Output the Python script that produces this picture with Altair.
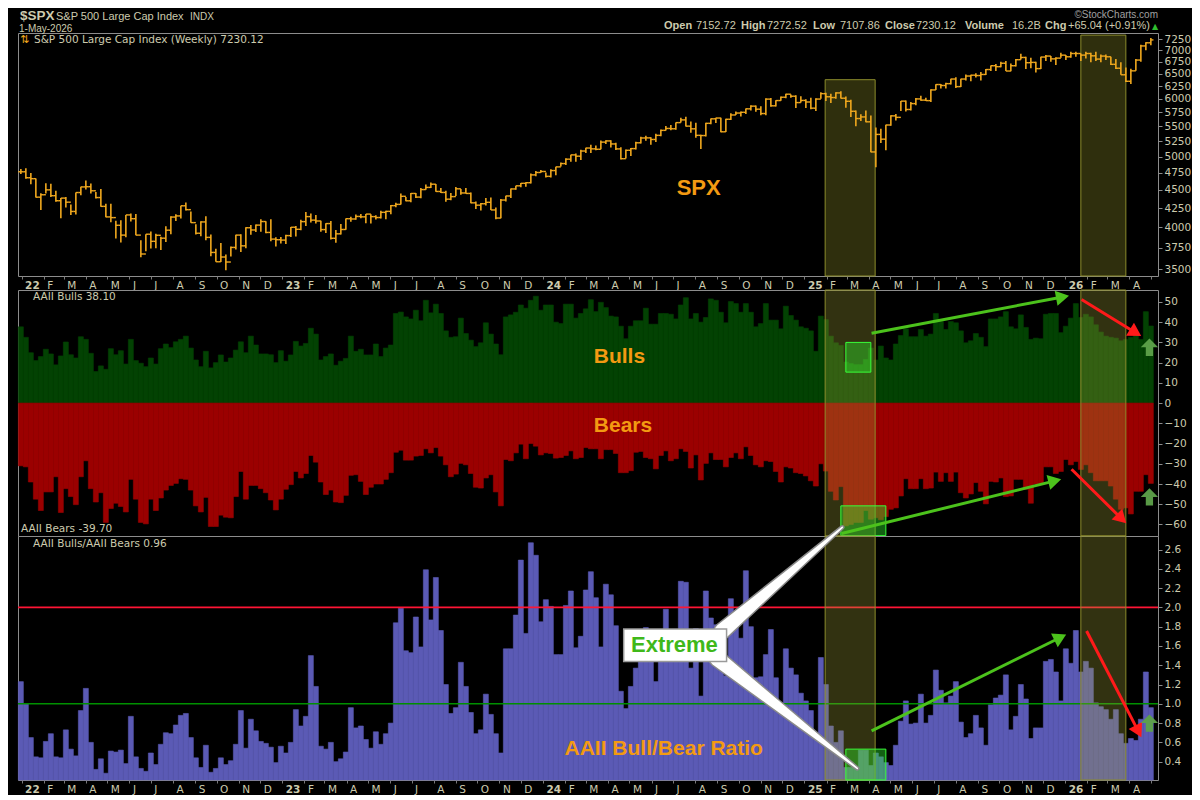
import numpy as np
import pandas as pd
import altair as alt

# ---------------- data (weekly) ----------------
spx_close = [4766,
 4677, 4663, 4398, 4432, 4501, 4419, 4349, 4385, 4329, 4204, 4463, 4543, 4546, 4488, 4393, 4272, 4132, 4123, 4024, 3901, 4158, 4109, 3901, 3675, 3912, 3825, 3899, 3863, 3962, 4130, 4145, 4280, 4228, 4058, 3924, 4067, 3873, 3693, 3586, 3640, 3583, 3752, 3901, 3771, 3993, 3965, 4026, 4072, 3934, 3852, 3845, 3840,
 3895, 3999, 3973, 4071, 4136, 4090, 4079, 3970, 4046, 3862, 3917, 3971, 4109, 4105, 4138, 4133, 4169, 4136, 4124, 4192, 4205, 4282, 4299, 4410, 4348, 4450, 4399, 4505, 4536, 4582, 4478, 4464, 4370, 4406, 4516, 4457, 4450, 4320, 4288, 4308, 4327, 4224, 4117, 4358, 4415, 4514, 4559, 4595, 4604, 4719, 4755, 4770,
 4697, 4784, 4840, 4891, 4959, 5027, 5006, 5089, 5137, 5124, 5117, 5234, 5254, 5204, 5123, 4967, 5100, 5128, 5223, 5303, 5305, 5278, 5347, 5432, 5465, 5460, 5567, 5615, 5505, 5459, 5347, 5344, 5554, 5634, 5648, 5408, 5626, 5703, 5738, 5751, 5815, 5864, 5808, 5729, 5996, 5871, 5969, 6032, 6090, 6051, 5931, 5971,
 5942, 5827, 5997, 6101, 6041, 6026, 6115, 6013, 5955, 5770, 5639, 5668, 5581, 5074, 5363, 5283, 5525, 5687, 5660, 5958, 5803, 5912, 6000, 5977, 5968, 6173, 6279, 6260, 6297, 6389, 6238, 6389, 6450, 6467, 6460, 6482, 6584, 6664, 6644, 6716, 6553, 6664, 6792, 6840, 6728, 6734, 6603, 6849, 6870, 6810, 6825, 6890,
 6855, 6926, 6926, 6891, 6926, 6876, 6805, 6870, 6855, 6693, 6611, 6476, 6344, 6557, 6784, 7094, 7165, 7230.12]

spx_high = [4808,
 4818, 4749, 4664, 4453, 4595, 4590, 4490, 4385, 4402, 4296, 4465, 4546, 4637, 4593, 4471, 4513, 4308, 4307, 4081, 4090, 4158, 4177, 4169, 3838, 3913, 3946, 3918, 3882, 4013, 4140, 4167, 4280, 4325, 4203, 4038, 4076, 4140, 3907, 3736, 3806, 3670, 3763, 3905, 3911, 4000, 4028, 4034, 4100, 4077, 4101, 3876, 3878,
 3906, 4003, 4015, 4095, 4195, 4176, 4156, 4082, 4049, 4078, 3964, 4039, 4110, 4133, 4163, 4169, 4170, 4168, 4155, 4213, 4213, 4291, 4322, 4448, 4401, 4458, 4456, 4527, 4578, 4607, 4584, 4528, 4490, 4458, 4542, 4514, 4527, 4465, 4338, 4319, 4385, 4393, 4256, 4374, 4418, 4520, 4560, 4599, 4610, 4739, 4778, 4793,
 4754, 4802, 4842, 4906, 4975, 5030, 5048, 5111, 5140, 5189, 5179, 5261, 5265, 5264, 5222, 5150, 5114, 5139, 5240, 5325, 5341, 5315, 5376, 5447, 5506, 5523, 5570, 5655, 5670, 5585, 5566, 5358, 5563, 5641, 5651, 5651, 5636, 5734, 5767, 5765, 5822, 5879, 5878, 5863, 6012, 6018, 5973, 6044, 6099, 6085, 6070, 6050,
 5993, 6021, 6014, 6128, 6120, 6101, 6127, 6147, 6044, 5986, 5783, 5715, 5786, 5695, 5481, 5459, 5528, 5700, 5720, 5959, 5968, 5944, 6016, 6059, 6024, 6187, 6284, 6290, 6315, 6395, 6427, 6395, 6481, 6478, 6509, 6532, 6593, 6671, 6699, 6750, 6764, 6711, 6807, 6920, 6855, 6834, 6749, 6853, 6891, 6870, 6845, 6945,
 6891, 6963, 6963, 6926, 6963, 6945, 6963, 6905, 6905, 6855, 6805, 6735, 6625, 6600, 6805, 7123, 7175, 7272.52]

spx_low = [4733,
 4662, 4582, 4395, 4222, 4450, 4402, 4335, 4115, 4257, 4157, 4162, 4424, 4507, 4450, 4381, 4268, 4128, 4063, 3859, 3810, 3876, 4074, 3900, 3637, 3706, 3738, 3742, 3722, 3818, 3913, 4079, 4112, 4218, 4057, 3907, 3886, 3837, 3648, 3585, 3584, 3491, 3647, 3727, 3698, 3741, 3906, 3938, 3942, 3923, 3827, 3764, 3800,
 3794, 3877, 3885, 3961, 4015, 4061, 4047, 3943, 3928, 3847, 3809, 3909, 3969, 4069, 4096, 4113, 4049, 4048, 4098, 4110, 4103, 4167, 4261, 4298, 4341, 4328, 4385, 4383, 4502, 4527, 4474, 4455, 4335, 4356, 4414, 4431, 4448, 4316, 4238, 4216, 4283, 4223, 4103, 4113, 4340, 4387, 4504, 4537, 4546, 4593, 4700, 4751,
 4682, 4682, 4714, 4844, 4870, 4919, 4920, 4947, 5057, 5057, 5103, 5117, 5203, 5146, 5107, 4954, 4969, 5011, 5114, 5211, 5257, 5191, 5234, 5331, 5432, 5433, 5444, 5570, 5498, 5391, 5306, 5120, 5328, 5540, 5560, 5402, 5406, 5615, 5703, 5674, 5720, 5784, 5763, 5700, 5696, 5853, 5856, 5963, 6014, 6024, 5832, 5932,
 5829, 5809, 5774, 6001, 5962, 5924, 6004, 6009, 5837, 5667, 5505, 5597, 5572, 5069, 4835, 5220, 5101, 5511, 5603, 5773, 5767, 5782, 5879, 5965, 5960, 5943, 6173, 6201, 6201, 6281, 6212, 6230, 6360, 6343, 6418, 6360, 6471, 6555, 6551, 6633, 6551, 6550, 6647, 6795, 6597, 6611, 6521, 6597, 6763, 6749, 6680, 6834,
 6784, 6834, 6855, 6763, 6819, 6735, 6763, 6735, 6784, 6680, 6597, 6476, 6331, 6292, 6557, 6749, 7000, 7107.86]

aaii_bulls = [
 37.7, 32.5, 24.9, 21.0, 23.0, 26.6, 24.3, 18.9, 23.3, 30.2,
 23.9, 22.3, 32.8, 31.5, 24.6, 15.6, 18.4, 16.7, 26.9, 23.9,
 25.9, 19.3, 31.5, 21.0, 19.7, 18.0, 22.3, 19.3, 26.9, 29.2,
 27.4, 30.3, 31.5, 33.1, 27.2, 21.3, 18.0, 25.6, 17.4, 20.0,
 23.8, 20.3, 22.3, 26.2, 30.3, 24.9, 33.1, 28.7, 24.3, 24.3,
 23.9, 20.0, 25.9, 20.7, 23.8, 30.5, 28.2, 29.5, 37.0, 34.1,
 21.3, 23.0, 24.3, 18.7, 20.7, 22.1, 33.1, 25.6, 26.6, 23.8,
 23.8, 29.2, 23.0, 27.2, 28.7, 44.3, 45.0,
 42.6, 41.6, 45.9, 40.7, 50.8, 44.6, 48.9, 44.3, 35.7, 32.5,
 32.8, 42.0, 34.4, 31.1, 27.9, 29.8, 39.7, 34.1, 29.2, 23.9,
 42.6, 43.6, 44.9, 48.5, 46.9, 50.8, 52.8, 45.9, 48.5, 48.5,
 40.0, 39.3, 48.9, 48.9, 42.0, 44.3, 46.6, 51.1, 45.2, 49.8,
 47.2, 43.0, 42.6, 38.0, 31.8, 38.0, 40.7, 40.7, 46.9, 39.0,
 39.0, 44.3, 44.3, 43.9, 41.6, 48.5, 52.1, 41.6, 44.3, 40.0,
 42.3, 51.5, 50.8, 44.9, 39.7, 50.2, 49.2, 44.9, 49.2, 44.9,
 37.7, 39.3, 49.2, 41.0, 41.0, 36.7, 47.9, 43.3, 41.0,
 37.7, 37.0, 35.7, 25.6, 43.0, 41.3, 33.1, 29.8, 28.5, 20.3,
 19.5, 19.0, 19.0, 21.6, 27.2, 21.3, 28.2, 22.3, 21.3, 29.2,
 33.4, 36.7, 32.8, 32.8, 36.4, 33.1, 34.1, 44.3, 40.3, 36.4,
 40.3, 39.7, 35.7, 29.8, 30.8, 34.4, 32.5, 27.9, 41.6, 41.6,
 42.6, 45.2, 37.7, 36.7, 43.6, 37.4, 31.5, 32.1, 31.8, 43.9,
 44.3, 44.3, 34.8, 38.0, 42.0, 49.2, 42.3, 43.9, 42.6, 38.7,
 35.1, 33.1, 32.5, 32.1, 30.8, 31.5, 32.5, 33.4, 31.5, 45.2,
 38.1]

aaii_bears = [
 -31.0, -31.5, -39.0, -47.5, -53.1, -43.9, -43.9, -36.4, -54.1, -42.3,
 -46.2, -50.2, -36.4, -28.5, -42.3, -48.9, -44.3, -59.0, -52.1, -49.5,
 -51.1, -53.8, -37.7, -47.5, -59.0, -59.7, -47.5, -53.1, -46.9, -43.0,
 -40.7, -39.7, -37.4, -37.7, -43.0, -50.8, -53.8, -46.6, -61.0, -61.0,
 -55.4, -56.4, -56.7, -46.2, -33.8, -47.5, -40.7, -40.7, -42.3, -44.3,
 -47.9, -52.8, -47.5, -42.6, -40.3, -33.8, -37.0, -34.8, -25.9, -29.2,
 -39.0, -45.2, -43.0, -48.9, -49.2, -45.6, -35.7, -35.4, -38.7, -45.2,
 -41.6, -40.0, -40.0, -37.7, -34.4, -24.3, -23.3,
 -28.2, -28.2, -26.2, -25.9, -22.6, -24.6, -22.0, -26.2, -30.5, -36.4,
 -35.1, -29.8, -30.5, -34.8, -41.6, -42.0, -37.0, -35.4, -43.9, -50.8,
 -27.9, -28.5, -24.6, -20.3, -27.5, -20.0, -21.3, -25.6, -24.6, -24.9,
 -27.2, -26.9, -25.9, -23.6, -27.5, -26.9, -22.0, -22.6, -22.6, -27.5,
 -23.0, -23.0, -24.9, -34.4, -34.4, -33.4, -24.3, -23.9, -26.9, -27.5,
 -32.5, -25.9, -23.6, -28.5, -27.5, -22.6, -23.9, -32.1, -25.6, -38.0,
 -29.8, -24.6, -27.9, -27.9, -31.5, -26.9, -24.6, -27.5, -21.6, -25.9,
 -30.5, -31.5, -28.5, -28.9, -33.8, -39.0, -31.5, -32.1, -34.4,
 -34.8, -36.0, -38.4, -41.0, -30.0, -33.6, -43.6, -47.9, -41.3, -60.7,
 -60.0, -59.0, -59.0, -53.1, -57.4, -56.7, -57.7, -56.1, -52.5, -51.8,
 -45.9, -37.4, -42.3, -42.3, -37.4, -42.3, -42.0, -34.1, -38.7, -34.4,
 -38.7, -34.1, -44.3, -46.9, -44.9, -39.3, -43.6, -49.8, -38.7, -39.0,
 -37.0, -46.2, -45.9, -37.7, -37.7, -42.6, -49.5, -40.0, -39.7, -31.5,
 -31.5, -34.8, -33.8, -27.9, -30.5, -28.9, -32.8, -30.5, -34.4, -38.4,
 -38.4, -38.4, -41.0, -47.5, -52.5, -51.8, -54.8, -43.6, -43.6, -35.4,
 -39.7]

bull_bear_ratio = [
 1.23, 1.00, 0.65, 0.45, 0.44, 0.61, 0.69, 0.45, 0.44, 0.73,
 0.53, 0.46, 0.93, 1.16, 0.60, 0.32, 0.43, 0.28, 0.51, 0.50,
 0.52, 0.38, 0.87, 0.45, 0.33, 0.30, 0.49, 0.37, 0.58, 0.70,
 0.69, 0.78, 0.88, 0.90, 0.65, 0.44, 0.34, 0.57, 0.29, 0.33,
 0.44, 0.37, 0.41, 0.58, 0.93, 0.54, 0.84, 0.72, 0.61, 0.59,
 0.55, 0.39, 0.56, 0.49, 0.60, 0.94, 0.77, 0.87, 1.50, 1.18,
 0.56, 0.53, 0.60, 0.40, 0.43, 0.50, 0.96, 0.75, 0.77, 0.63,
 0.54, 0.71, 0.58, 0.69, 0.80, 1.84, 1.99,
 1.55, 1.53, 1.90, 1.59, 2.39, 1.87, 2.31, 1.76, 1.20, 0.90,
 0.96, 1.43, 1.18, 0.91, 0.69, 0.73, 1.10, 0.89, 0.69, 0.49,
 1.57, 1.57, 1.92, 2.49, 1.73, 2.67, 2.54, 1.85, 2.08, 2.01,
 1.51, 1.51, 2.02, 2.17, 1.58, 1.70, 2.18, 2.37, 2.10, 1.59,
 2.24, 2.13, 1.81, 1.13, 0.95, 1.18, 1.37, 1.75, 1.79, 1.50,
 1.23, 1.65, 1.98, 1.60, 1.50, 2.27, 2.26, 1.37, 1.78, 1.08,
 2.17, 1.89, 1.82, 1.65, 1.29, 2.09, 1.91, 1.68, 2.38, 1.80,
 1.27, 1.28, 1.51, 1.77, 1.27, 1.00, 1.57, 1.37, 1.30,
 1.11, 1.03, 0.93, 0.63, 1.48, 1.20, 0.77, 0.60, 0.72, 0.34,
 0.34, 0.33, 0.52, 0.52, 0.36, 0.49, 0.45, 0.39, 0.36, 0.57,
 0.82, 1.03, 0.79, 0.80, 1.10, 0.80, 0.88, 1.35, 1.14, 1.01,
 1.08, 1.23, 0.81, 0.65, 0.69, 0.88, 0.75, 0.57, 0.99, 1.06,
 1.09, 1.30, 0.73, 0.87, 1.20, 1.05, 0.64, 0.75, 0.75, 1.44,
 1.46, 1.33, 1.03, 1.57, 1.42, 1.76, 1.33, 1.44, 1.37, 1.01,
 0.97, 0.94, 0.84, 0.94, 0.69, 0.59, 0.64, 0.62, 0.84, 1.33,
 0.96]

spx_ticks = [3500, 3750, 4000, 4250, 4500, 4750, 5000, 5250, 5500, 5750, 6000, 6250, 6500, 6750, 7000, 7250]
bb_ticks = [-60, -50, -40, -30, -20, -10, 0, 10, 20, 30, 40, 50]
ratio_ticks = [0.4, 0.6, 0.8, 1.0, 1.2, 1.4, 1.6, 1.8, 2.0, 2.2, 2.4, 2.6]

# annotation anchors (dates / values)
band_start = ["2025-01-30", "2026-01-23"]
band_end = ["2025-04-10", "2026-03-27"]
band_top_spx = [6376, 7341]

# ---------------- layout / style ----------------
W = 1140
H1, H2, H3 = 243, 246, 244
X_START, X_END = pd.Timestamp("2021-12-27"), pd.Timestamp("2026-05-11")
SPX_DOM = [3428, 7390]
BB_DOM = [-65.7, 55.9]
RA_DOM = [0.21, 2.74]
PPD = W / (X_END - X_START).days
PPU_BB = H2 / (BB_DOM[1] - BB_DOM[0])
PPU_RA = H3 / (RA_DOM[1] - RA_DOM[0])

LC = "#cdcbae"
ORANGE = "#f39a12"
SPXC = "#f0a81e"
GREEN_BAR = "#034203"
RED_BAR = "#9b0000"
BLUE_BAR = "#5b5ab5"
ARROW_G = "#4cc21c"
ARROW_R = "#ff1a1a"
FONT = "DejaVu Sans"
BOLDF = "Liberation Sans"

n = len(spx_close)
dates = pd.date_range("2021-12-31", periods=n, freq="7D")
df = pd.DataFrame({
    "date": dates,
    "start": dates - pd.Timedelta(hours=84),
    "end": dates + pd.Timedelta(hours=84),
    "close": spx_close,
    "high": spx_high,
    "low": spx_low,
    "open": [spx_close[0]] + spx_close[:-1],
    "bulls": aaii_bulls,
    "bears": aaii_bears,
    "ratio": bull_bear_ratio,
})

XS = alt.Scale(domain=[alt.DateTime(year=2021, month=12, date=27),
                       alt.DateTime(year=2026, month=5, date=11)])
XAX = alt.Axis(orient="bottom", title=None,
               tickCount={"interval": "month", "step": 1},
               labelExpr="datum.value >= datetime(2026, 4, 1) ? '' : (month(datum.value) == 0 ? timeFormat(datum.value, '%y') : slice(timeFormat(datum.value, '%b'), 0, 1))",
               labelAlign="left", labelOffset=3, labelPadding=1, tickSize=3,
               tickColor="#7a7a7a", domain=False, grid=False, labelColor=LC,
               labelFont=FONT, labelFontSize=10.5, labelOverlap=False, labelFlush=False,
               labelFontWeight={"condition": {"test": "month(datum.value) == 0", "value": "bold"}, "value": "normal"})


def yax(vals, fmt):
    return alt.Axis(orient="right", title=None, values=vals, format=fmt, grid=False,
                    domain=False, tickSize=4, tickColor="#8c8c8c", labelColor=LC,
                    labelFont=FONT, labelFontSize=10.5, labelPadding=2)


SPX_Y = alt.Scale(type="log", domain=SPX_DOM, nice=False, zero=False)
BB_Y = alt.Scale(domain=BB_DOM, nice=False, zero=False)
RA_Y = alt.Scale(domain=RA_DOM, nice=False, zero=False)
SPX_AX = yax(spx_ticks, "d")
BB_AX = yax(bb_ticks, "d")
RA_AX = yax(ratio_ticks, ".1f")


def xs(f, axis=True):
    return alt.X(f"{f}:T", scale=XS, axis=XAX if axis else None, title=None)


def x2(f):
    return alt.X2(f"{f}:T")


def ys(f, panel):
    sc, ax = {"spx": (SPX_Y, SPX_AX), "bb": (BB_Y, BB_AX), "ra": (RA_Y, RA_AX)}[panel]
    return alt.Y(f"{f}:Q", scale=sc, axis=ax, title=None)


ONE = pd.DataFrame({"k": [0]})


def txt(s, x, y, size=10.5, color=LC, weight="normal", align="left", font=FONT, baseline="alphabetic"):
    return alt.Chart(ONE).mark_text(text=s, align=align, baseline=baseline, fontSize=size,
                                    fontWeight=weight, color=color, font=font).encode(
        x=alt.value(x), y=alt.value(y))


def label(s, d, v, panel, size=21, color=ORANGE, axis=True):
    t = pd.DataFrame({"d": [pd.Timestamp(d)], "v": [v]})
    return alt.Chart(t).mark_text(text=s, align="center", baseline="middle", fontSize=size,
                                  fontWeight="bold", color=color, font=BOLDF).encode(
        x=xs("d", axis), y=ys("v", panel))


# ---------------- SPX panel ----------------
bands = pd.DataFrame({"s": pd.to_datetime(band_start), "e": pd.to_datetime(band_end), "top": band_top_spx})
band_spx = alt.Chart(bands).mark_rect(fill="#9c9c2c", fillOpacity=0.3, stroke="#8c8c2c",
                                      strokeWidth=1).encode(
    x=xs("s"), x2=x2("e"), y=ys("top", "spx"), y2=alt.value(H1))

base = alt.Chart(df)
hl = base.mark_rule(color=SPXC, strokeWidth=1.6).encode(
    x=xs("date"), y=ys("low", "spx"), y2=alt.Y2("high:Q"))
op = base.mark_rule(color=SPXC, strokeWidth=1.4, xOffset=-2.6).encode(
    x=xs("date"), x2=x2("date"), y=ys("open", "spx"))
cl = base.mark_rule(color=SPXC, strokeWidth=1.4, x2Offset=2.6).encode(
    x=xs("date"), x2=x2("date"), y=ys("close", "spx"))

header_segments = [("Open", 646, "bold"), ("7152.72", 678, "normal"), ("High", 723, "bold"),
                   ("7272.52", 749, "normal"), ("Low", 795, "bold"), ("7107.86", 822, "normal"),
                   ("Close", 867, "bold"), ("7230.12", 898, "normal"), ("Volume", 947, "bold"),
                   ("16.2B", 994, "normal"), ("Chg", 1027, "bold"), ("+65.04 (+0.91%)", 1050, "normal")]
hdr = [txt(s, x, -4, size=11, weight=w, font=BOLDF) for s, x, w in header_segments]

spx_layers = [band_spx, hl, op, cl,
              label("SPX", "2024-08-06", 4531, "spx", size=22),
              txt("\u21c5", 2, 10, size=11, color=SPXC),
              txt("S&P 500 Large Cap Index (Weekly) 7230.12", 16, 10),
              txt("$SPX", 2, -13, size=13.5, weight="bold", font=BOLDF),
              txt("S&P 500 Large Cap Index", 38, -13, size=11, font=BOLDF),
              txt("INDX", 172, -13, size=10, font=BOLDF),
              txt("1-May-2026", 1, -1, size=10, font=BOLDF),
              txt("\u00a9StockCharts.com", 1140, -15, size=10, color="#a0a0a0", align="right", font=BOLDF),
              txt("\u25b2", 1134, -4, size=8, color="#2fbf2f", align="left")] + hdr
spx = alt.layer(*spx_layers).properties(width=W, height=H1)


# ---------------- arrows helper ----------------
def arrows(d1, v1, d2, v2, colors, panel, ppu, axis):
    a = pd.DataFrame({"d1": pd.to_datetime(d1), "v1": v1, "d2": pd.to_datetime(d2), "v2": v2, "c": colors})
    dx = (a["d2"] - a["d1"]).dt.total_seconds() / 86400.0 * PPD
    dy = -(a["v2"] - a["v1"]) * ppu
    L = np.hypot(dx, dy)
    ux, uy = dx / L, dy / L
    a["ang"] = np.degrees(np.arctan2(dx, -dy)) % 360
    back = 7.0
    a["hd"] = a["d2"] - pd.to_timedelta(back * ux / PPD * 86400.0, unit="s")
    a["hv"] = a["v2"] + back * uy / ppu
    line = alt.Chart(a).mark_rule(strokeWidth=3).encode(
        x=xs("d1", axis), x2=x2("hd"), y=ys("v1", panel), y2=alt.Y2("hv:Q"),
        color=alt.Color("c:N", scale=None))
    head = alt.Chart(a).mark_point(shape="triangle-up", filled=True, size=230, opacity=1).encode(
        x=xs("hd", axis), y=ys("hv", panel), angle=alt.Angle("ang:Q", scale=None),
        color=alt.Color("c:N", scale=None))
    return [line, head]


UP_SHAPE = "M0,-1L1,0L0.42,0L0.42,1L-0.42,1L-0.42,0L-1,0Z"


def up_arrow(d, v, panel, axis):
    t = pd.DataFrame({"d": [pd.Timestamp(d)], "v": [v]})
    return alt.Chart(t).mark_point(shape=UP_SHAPE, filled=True, size=300, color="#5ea24a",
                                   opacity=0.95).encode(x=xs("d", axis), y=ys("v", panel))


def box(s, e, lo, hi, panel, axis):
    t = pd.DataFrame({"s": [pd.Timestamp(s)], "e": [pd.Timestamp(e)], "lo": [lo], "hi": [hi]})
    return alt.Chart(t).mark_rect(fill="#2ee62e", fillOpacity=0.42, stroke="#38ff38",
                                  strokeWidth=1).encode(
        x=xs("s", axis), x2=x2("e"), y=ys("hi", panel), y2=alt.Y2("lo:Q"))


def band_full(h, axis):
    return alt.Chart(bands).mark_rect(fill="#a6a638", fillOpacity=0.3, stroke="#8c8c2c",
                                      strokeWidth=1).encode(
        x=xs("s", axis), x2=x2("e"), y=alt.value(0), y2=alt.value(h))


# ---------------- Bulls / Bears panel ----------------
bull_bars = base.mark_rect(color=GREEN_BAR, stroke=GREEN_BAR, strokeWidth=0.6).encode(
    x=xs("start", False), x2=x2("end"), y=ys("bulls", "bb"), y2=alt.datum(0))
bear_bars = base.mark_rect(color=RED_BAR, stroke=RED_BAR, strokeWidth=0.6).encode(
    x=xs("start", False), x2=x2("end"), y=ys("bears", "bb"), y2=alt.datum(0))

bb_layers = [bull_bars, bear_bars,
             label("Bulls", "2024-04-17", 22.7, "bb", axis=False),
             label("Bears", "2024-04-22", -11.1, "bb", axis=False),
             band_full(H2, False),
             box("2025-02-28", "2025-04-04", 15.3, 30.0, "bb", False),
             box("2025-02-21", "2025-04-25", -65.5, -50.8, "bb", False)]
bb_layers += arrows(["2025-04-05", "2025-02-22", "2026-01-24", "2026-01-10"],
                    [34.5, -64.5, 51.2, -32.7],
                    ["2026-01-07", "2025-12-27", "2026-04-18", "2026-03-28"],
                    [53.1, -37.6, 33.0, -59.6],
                    [ARROW_G, ARROW_G, ARROW_R, ARROW_R], "bb", PPU_BB, False)
bb_layers += [up_arrow("2026-04-29", 27.6, "bb", False),
              up_arrow("2026-04-29", -46.4, "bb", False),
              txt("AAII Bulls 38.10", 15, 10),
              txt("AAII Bears -39.70", 3, H2 - 4)]
bb = alt.layer(*bb_layers).properties(width=W, height=H2)

# ---------------- Ratio panel ----------------
ratio_bars = base.mark_rect(color=BLUE_BAR, stroke=BLUE_BAR, strokeWidth=0.6).encode(
    x=xs("start"), x2=x2("end"), y=ys("ratio", "ra"), y2=alt.value(H3))
ref_lines = pd.DataFrame({"v": [2.0, 1.0], "c": ["#ff1535", "#009000"]})
rules = alt.Chart(ref_lines).mark_rule(strokeWidth=1.6).encode(
    y=ys("v", "ra"), color=alt.Color("c:N", scale=None))

trail_df = pd.DataFrame({
    "g": ["a", "a", "b", "b"],
    "o": [0, 1, 0, 1],
    "d": pd.to_datetime(["2024-09-08", "2025-02-23", "2024-09-01", "2025-03-16"]),
    "v": [1.755, 2.83, 1.47, 0.33],
    "w": [15, 1.5, 15, 1.5],
})
trail_df["w2"] = trail_df["w"] + 3
trail_shadow = alt.Chart(trail_df).mark_trail(color="#8a8a8a").encode(
    x=xs("d"), y=ys("v", "ra"), detail="g:N", order="o:Q",
    size=alt.Size("w2:Q", scale=None, legend=None))
trail_white = alt.Chart(trail_df).mark_trail(color="#ffffff").encode(
    x=xs("d"), y=ys("v", "ra"), detail="g:N", order="o:Q",
    size=alt.Size("w:Q", scale=None, legend=None))

callout = pd.DataFrame({"s": [pd.Timestamp("2024-04-23")], "e": [pd.Timestamp("2024-09-14")],
                        "lo": [1.44], "hi": [1.776]})
callout_box = alt.Chart(callout).mark_rect(fill="#ffffff", stroke="#9a9a9a", strokeWidth=1.5).encode(
    x=xs("s"), x2=x2("e"), y=ys("hi", "ra"), y2=alt.Y2("lo:Q"))

ra_layers = [ratio_bars, rules, band_full(H3, True),
             box("2025-02-28", "2025-04-25", 0.21, 0.53, "ra", True)]
ra_layers += arrows(["2025-04-05", "2026-01-31"], [0.72, 1.755],
                    ["2026-01-03", "2026-04-18"], [1.72, 0.65],
                    [ARROW_G, ARROW_R], "ra", PPU_RA, True)
ra_layers += [trail_shadow, trail_white, callout_box,
              label("Extreme", "2024-07-03", 1.61, "ra", size=22, color="#3fb81a"),
              label("AAII Bull/Bear Ratio", "2024-06-18", 0.53, "ra", size=21),
              up_arrow("2026-04-29", 0.80, "ra", True),
              txt("AAII Bulls/AAII Bears 0.96", 15, 11)]
ra = alt.layer(*ra_layers).properties(width=W, height=H3)

chart = alt.vconcat(
    spx,
    alt.vconcat(bb, ra, spacing=0, bounds="flush"),
    spacing=14, bounds="flush",
).properties(
    padding={"left": 8, "top": 0, "right": 0, "bottom": 0},
    background="#000000",
).configure_view(
    stroke="#8c8c8c", strokeWidth=1, fill="#000000"
)

chart.save("out.html", embed_options={"renderer": "svg", "actions": False})
